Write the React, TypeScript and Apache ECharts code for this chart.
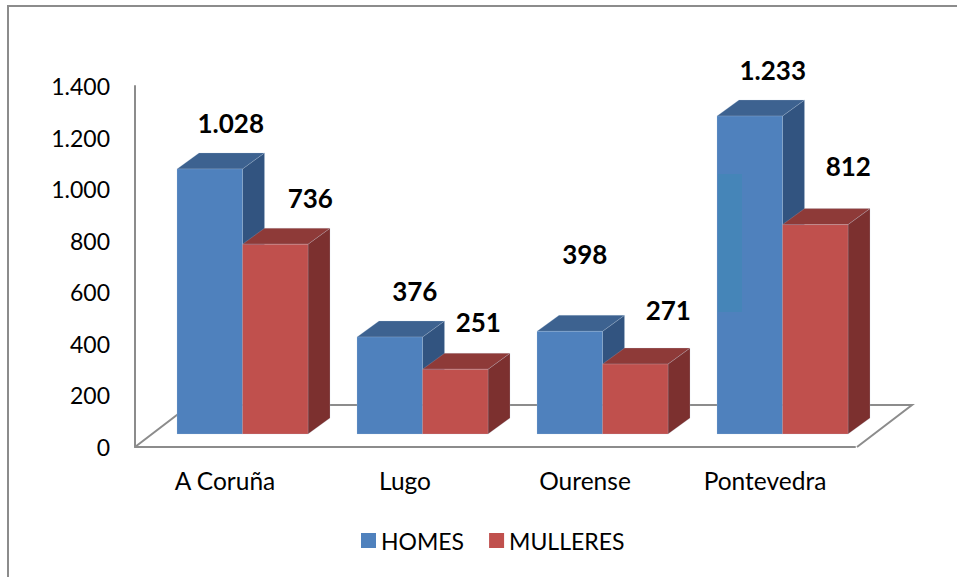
import React, { useEffect, useRef } from "react";
import * as echarts from "echarts";

const categories = ["A Coruña", "Lugo", "Ourense", "Pontevedra"];
const homes = [1028, 376, 398, 1233];
const mulleres = [736, 251, 271, 812];
const valueLabels = {
  homes: ["1.028", "376", "398", "1.233"],
  mulleres: ["736", "251", "271", "812"],
};
const yTickLabels = ["0", "200", "400", "600", "800", "1.000", "1.200", "1.400"];

// label placement relative to the top-centre of the bar's front face
const homesLabelShift = [[21, -46], [25, -46], [15, -77], [23, -46]];
const mulleresLabelShift = [[35, -46], [23, -47], [33, -54], [33, -59]];

const FONT = "Lato, Carlito, sans-serif";
const DX = 22; // depth of the pseudo-3D bars
const DY = -16;
const BASE_DY = -13; // front face bottom relative to the axis corner
const BAR_W = 65.5;

type Palette = { front: string; top: string; side: string };
const blue: Palette = { front: "#4f81bd", top: "#3d6290", side: "#325480" };
const red: Palette = { front: "#c0504d", top: "#8e3a38", side: "#7c302f" };

function bar3D(values: number[], palette: Palette, slot: 0 | 1, shift: number[][], labels: string[]) {
  return {
    type: "custom",
    name: slot === 0 ? "HOMES" : "MULLERES",
    itemStyle: { color: palette.front },
    z: slot === 0 ? 3 : 4,
    silent: true,
    data: values.map((v, i) => [i, v]),
    renderItem: (params: any, api: any) => {
      const i = api.value(0);
      const val = api.value(1);
      const [cx, axisY] = api.coord([i, 0]);
      const [, topY] = api.coord([i, val]);
      const x0 = cx - 48 + slot * BAR_W;
      const x1 = x0 + BAR_W;
      const y1 = axisY + BASE_DY;
      const y0 = topY + BASE_DY;
      const edge = { stroke: "rgba(190,205,225,0.35)", lineWidth: 0.6 };
      return {
        type: "group",
        children: [
          {
            type: "polygon",
            shape: { points: [[x1, y1], [x1 + DX, y1 + DY], [x1 + DX, y0 + DY], [x1, y0]] },
            style: { fill: palette.side, ...edge },
          },
          {
            type: "polygon",
            shape: { points: [[x0, y0], [x1, y0], [x1 + DX, y0 + DY], [x0 + DX, y0 + DY]] },
            style: { fill: palette.top, ...edge },
          },
          {
            type: "rect",
            shape: { x: x0, y: y0, width: BAR_W, height: y1 - y0 },
            style: { fill: palette.front, ...edge },
          },
          {
            type: "text",
            x: x0 + BAR_W / 2 + shift[i][0],
            y: y0 + shift[i][1],
            z2: 20,
            style: {
              text: labels[i],
              fill: "#000",
              font: `bold 26px ${FONT}`,
              align: "center",
              verticalAlign: "middle",
            },
          },
        ],
      };
    },
  };
}

export default function App() {
  const ref = useRef<HTMLDivElement>(null);
  useEffect(() => {
    const chart = echarts.init(ref.current!, undefined, { renderer: "svg" });
    chart.setOption({
      animation: false,
      backgroundColor: "#fff",
      grid: { left: 135, top: 86, width: 720, height: 361 },
      legend: {
        left: 356,
        top: 524,
        itemWidth: 15,
        itemHeight: 15,
        itemGap: 25,
        icon: "rect",
        data: ["HOMES", "MULLERES"],
        textStyle: { fontFamily: FONT, fontSize: 23, color: "#000" },
      },
      xAxis: {
        type: "category",
        data: categories,
        axisTick: { show: false },
        axisLine: { lineStyle: { color: "#8c8c8c", width: 2 } },
        axisLabel: { fontFamily: FONT, fontSize: 24.5, color: "#000", margin: 21 },
      },
      yAxis: {
        type: "value",
        min: 0,
        max: 1400,
        interval: 200,
        splitLine: { show: false },
        axisTick: { show: false },
        axisLine: { show: true, lineStyle: { color: "#8c8c8c", width: 2 } },
        axisLabel: {
          fontFamily: FONT,
          fontSize: 23,
          color: "#000",
          margin: 25,
          formatter: (v: number) => yTickLabels[v / 200],
        },
      },
      graphic: [
        {
          type: "polyline",
          z: 1,
          silent: true,
          shape: { points: [[135, 447], [190, 405], [912, 405], [857, 447]] },
          style: { fill: "none", stroke: "#8c8c8c", lineWidth: 2 },
        },
        {
          type: "polyline",
          z: 1,
          silent: true,
          shape: { points: [[8, 577], [8, 6], [957, 6]] },
          style: { fill: "none", stroke: "#8c8c8c", lineWidth: 2 },
        },
        {
          type: "rect",
          z: 10,
          silent: true,
          shape: { x: 718, y: 174, width: 24, height: 138 },
          style: { fill: "#4585b8" },
        },
      ],
      series: [
        bar3D(homes, blue, 0, homesLabelShift, valueLabels.homes),
        bar3D(mulleres, red, 1, mulleresLabelShift, valueLabels.mulleres),
      ],
    });
    return () => chart.dispose();
  }, []);
  return (
    <div
      ref={ref}
      style={{ position: "fixed", left: 0, top: 0, width: 957, height: 577 }}
    />
  );
}
